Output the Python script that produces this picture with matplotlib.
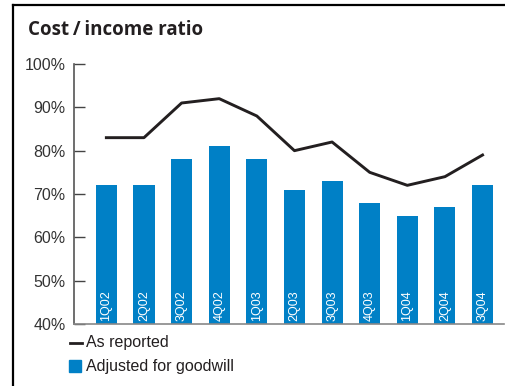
import matplotlib
matplotlib.use("Agg")
import matplotlib.pyplot as plt
from matplotlib.lines import Line2D
from matplotlib.patches import Rectangle

# quarterly cost / income ratios (%)
quarters = ["1Q02", "2Q02", "3Q02", "4Q02", "1Q03", "2Q03", "3Q03",
            "4Q03", "1Q04", "2Q04", "3Q04"]
as_reported = [83, 83, 91, 92, 88, 80, 82, 75, 72, 74, 79]
adjusted_goodwill = [72, 72, 78, 81, 78, 71, 73, 68, 65, 67, 72]
y_ticks = [40, 50, 60, 70, 80, 90, 100]

BLUE = "#0080c6"
DARK = "#231f20"
FONT = "Liberation Sans"

W, H = 505, 386
fig = plt.figure(figsize=(W / 100, H / 100), dpi=100)

# outer frame: top and left rules only
fig.add_artist(Line2D([12.5 / W, 1.0], [1 - 5 / H, 1 - 5 / H], color="black", lw=1.6))
fig.add_artist(Line2D([12.5 / W, 12.5 / W], [0, 1 - 5 / H], color="black", lw=1.6))

fig.text(28 / W, 1 - 30 / H, "Cost\u2009/\u2009income ratio", fontsize=13.5, fontweight="bold",
         family=["Open Sans", "DejaVu Sans"], color=DARK, va="center", ha="left")

ax = fig.add_axes([74 / W, 1 - 324 / H, (504 - 74) / W, (324 - 64) / H])
x = list(range(len(quarters)))
ax.bar(x, [v - 40 for v in adjusted_goodwill], bottom=40, width=0.56, color=BLUE, zorder=2)
ax.plot(x, as_reported, color=DARK, lw=2.1, zorder=3)

for xi, q in zip(x, quarters):
    ax.text(xi, 40.7, q, rotation=90, ha="center", va="bottom", color="white",
            fontsize=9, family=FONT, zorder=4)

ax.set_xlim(-0.86, 10.57)
ax.set_ylim(40, 100)
ax.set_yticks(y_ticks)
ax.set_yticklabels([f"{t}%" for t in y_ticks], family=FONT, fontsize=11.5, color="#333333")
ax.set_xticks([])
ax.tick_params(axis="y", direction="in", length=8, width=1, color="#444444", pad=6)
for side in ("top", "right"):
    ax.spines[side].set_visible(False)
ax.spines["left"].set_color("#555555")
ax.spines["left"].set_linewidth(1.2)
ax.spines["bottom"].set_color("#888888")
ax.spines["bottom"].set_linewidth(1.2)

# legend drawn by hand below the axis
fig.add_artist(Line2D([70 / W, 82 / W], [1 - 343 / H, 1 - 343 / H], color=DARK, lw=2))
fig.text(86 / W, 1 - 343 / H, "As reported", fontsize=11.5, family=FONT, color=DARK, va="center")
fig.add_artist(Rectangle((69 / W, 1 - 372 / H), 12 / W, 12 / H, color=BLUE,
                         transform=fig.transFigure))
fig.text(86 / W, 1 - 366 / H, "Adjusted for goodwill", fontsize=11.5, family=FONT,
         color=DARK, va="center")

fig.savefig("out.png", dpi=100)
